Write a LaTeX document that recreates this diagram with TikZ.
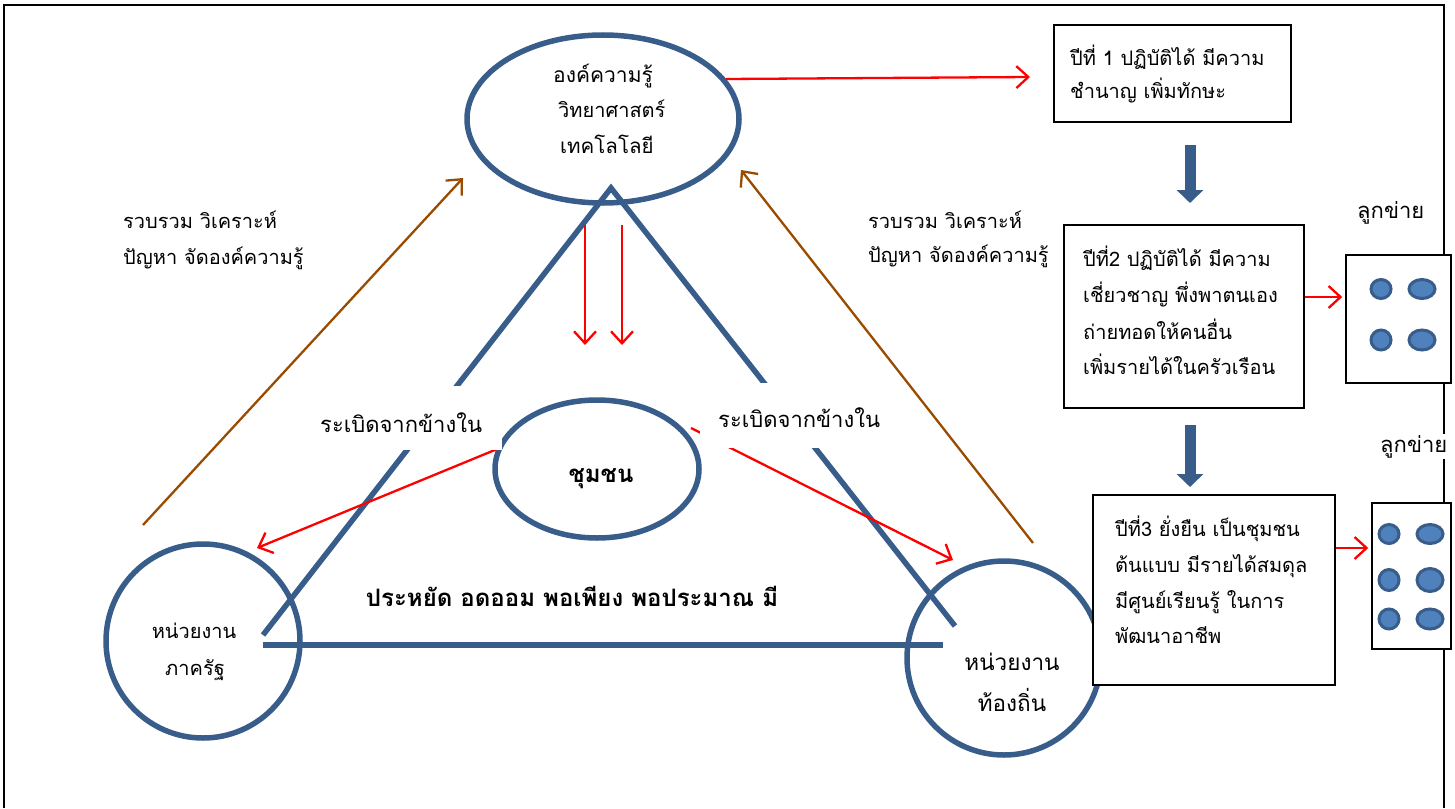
\documentclass[tikz,border=0pt]{standalone}
\usepackage{fontspec}
\newfontfamily\thai[Script=Thai]{Loma}
\usetikzlibrary{arrows.meta,shapes.geometric}
\definecolor{bl}{RGB}{56,93,138}
\definecolor{blf}{RGB}{79,129,189}
\definecolor{brn}{RGB}{153,76,0}
\definecolor{rd}{RGB}{255,0,0}
\begin{document}
\begin{tikzpicture}[x=1pt,y=-1pt,
  th/.style={font=\thai\fontsize{20}{24}\selectfont, inner sep=0pt, anchor=base west},
  thc/.style={font=\thai\fontsize{20}{24}\selectfont, inner sep=0pt, anchor=base},
  thb/.style={font=\thai\bfseries\fontsize{24}{28}\selectfont, inner sep=0pt, anchor=base},
  shp/.style={draw=bl, line width=5.5pt, inner sep=0pt},
  tri/.style={draw=bl, line width=5.5pt, line join=miter},
  rarr/.style={draw=rd, line width=2.3pt, -{Straight Barb[length=12pt,width=22pt]}},
  barr/.style={draw=brn, line width=2.3pt, -{Straight Barb[length=12pt,width=22pt]}},
  blk/.style={draw=bl, line width=11pt, -{Triangle[length=13pt,width=26pt]}},
  box/.style={draw=black, line width=1.5pt, fill=white, inner sep=0pt},
  dot/.style={ellipse, draw=bl, fill=blf, line width=3pt, inner sep=0pt},
  cover/.style={fill=white, inner xsep=20pt, inner ysep=6pt, anchor=base west, font=\thai\fontsize{22}{26}\selectfont}
]
\useasboundingbox (0,0) rectangle (1455,808);
% frame
\draw[line width=2pt] (4,808) -- (4,5) -- (1444,5) -- (1444,808);

% main shapes
\node[shp, ellipse, minimum width=272pt, minimum height=168pt] (know) at (603,119) {};
\node[shp, ellipse, minimum width=204pt, minimum height=138pt] (comm) at (597,469) {};
\node[shp, circle, minimum size=194pt] (gov) at (203,641) {};
\node[shp, circle, minimum size=194pt] (loc) at (1004,658) {};

% triangle
\coordinate (apex) at (611,188);
\coordinate (tl) at (263,635);
\coordinate (tr) at (955,626);
\coordinate (bl1) at (263,645);
\coordinate (br1) at (943,645);
\draw[tri] (tl) -- (apex) -- (tr);
\draw[tri] (bl1) -- (br1);

% red arrows
\coordinate (r1e) at (1030,77);
\draw[rarr] (know.18) -- (r1e);
\coordinate (v1s) at (585,225); \coordinate (v1e) at (585,345);
\coordinate (v2s) at (622,225); \coordinate (v2e) at (622,345);
\draw[rarr] (v1s) -- (v1e);
\draw[rarr] (v2s) -- (v2e);
\coordinate (cl) at (257,548);
\draw[rarr] (comm.169) -- (cl);
\coordinate (crs) at (691,428);
\coordinate (cr) at (953,560);
\draw[rarr] (crs) -- (cr);

% brown arrows
\coordinate (b1s) at (143,525); \coordinate (b1e) at (463,178);
\coordinate (b2s) at (1033,543); \coordinate (b2e) at (741,170);
\draw[barr] (b1s) -- (b1e);
\draw[barr] (b2s) -- (b2e);

% texts in shapes
\node[th, font=\thai\fontsize{21}{24}\selectfont] (k1) at (553,82) {องค์ความรู้};
\node[th] (k2) at (558,117) {วิทยาศาสตร์};
\node[th, font=\thai\fontsize{20.5}{24}\selectfont] (k3) at (560,153) {เทคโลโลยี};
\node[thb] (ct) at (601,482) {ชุมชน};
\node[thc, font=\thai\fontsize{20}{24}\selectfont] (g1) at (194,638) {หน่วยงาน};
\node[thc, font=\thai\fontsize{20}{24}\selectfont] (g2) at (195,675) {ภาครัฐ};
\node[thc, font=\thai\fontsize{22.5}{26}\selectfont] (l1) at (1012,670) {หน่วยงาน};
\node[thc, font=\thai\fontsize{22.5}{26}\selectfont] (l2) at (1012,711) {ท้องถิ่น};
\node[thb, font=\thai\bfseries\fontsize{24}{28}\selectfont] (eco) at (572,606) {ประหยัด อดออม พอเพียง พอประมาณ มี};

% brown labels
\node[th] (la1) at (123,228) {รวบรวม วิเคราะห์};
\node[th] (la2) at (123,264) {ปัญหา จัดองค์ความรู้};
\node[th] (ra1) at (868,228) {รวบรวม วิเคราะห์};
\node[th] (ra2) at (868,262) {ปัญหา จัดองค์ความรู้};

% covering labels
\node[cover, text height=40pt, text depth=12pt] (lab1) at (300,432) {ระเบิดจากข้างใน};
\node[cover, text height=38pt, text depth=15pt, inner xsep=18pt] (lab2) at (700,427) {ระเบิดจากข้างใน};

% right column boxes
\node[box, minimum width=237pt, minimum height=97pt] (y1) at (1172.5,73.5) {};
\node[th] (y1a) at (1070,65) {ปีที่ 1 ปฏิบัติได้ มีความ};
\node[th] (y1b) at (1070,98) {ชำนาญ เพิ่มทักษะ};
\coordinate (k1s) at (1190,145); \coordinate (k1e) at (1190,203);
\draw[blk] (k1s) -- (k1e);

\node[box, minimum width=240pt, minimum height=183pt] (y2) at (1184,316.5) {};
\node[th] (y2a) at (1083,266) {ปีที่2 ปฏิบัติได้ มีความ};
\node[th] (y2b) at (1083,302) {เชี่ยวชาญ พึ่งพาตนเอง};
\node[th] (y2c) at (1083,339) {ถ่ายทอดให้คนอื่น};
\node[th] (y2d) at (1083,374) {เพิ่มรายได้ในครัวเรือน};
\coordinate (k2s) at (1190,425); \coordinate (k2e) at (1190,487);
\draw[blk] (k2s) -- (k2e);

\node[box, minimum width=242pt, minimum height=190pt] (y3) at (1214,590) {};
\node[th] (y3a) at (1115,536) {ปีที่3 ยั่งยืน เป็นชุมชน};
\node[th] (y3b) at (1115,572) {ต้นแบบ มีรายได้สมดุล};
\node[th] (y3c) at (1115,608) {มีศูนย์เรียนรู้ ในการ};
\node[th] (y3d) at (1115,643) {พัฒนาอาชีพ};

% network boxes
\node[box, minimum width=105pt, minimum height=128pt] (netA) at (1398.5,319) {};
\node[box, minimum width=79pt, minimum height=146pt] (netB) at (1411.5,576) {};
\node[th, font=\thai\fontsize{22}{26}\selectfont] (ntA) at (1357,218) {ลูกข่าย};
\node[th, font=\thai\fontsize{22}{26}\selectfont, fill=white, inner sep=1pt] (ntB) at (1379,452) {ลูกข่าย};

\node[dot, minimum width=20pt, minimum height=19pt] (a1) at (1381,289) {};
\node[dot, minimum width=26pt, minimum height=19pt] (a2) at (1422,289) {};
\node[dot, minimum width=20pt, minimum height=20pt] (a3) at (1381,340) {};
\node[dot, minimum width=26pt, minimum height=20pt] (a4) at (1422,340) {};

\node[dot, minimum width=20pt, minimum height=19pt] (b1) at (1389,534) {};
\node[dot, minimum width=26pt, minimum height=19pt] (b2) at (1430,534) {};
\node[dot, minimum width=20pt, minimum height=21pt] (b3) at (1389,580) {};
\node[dot, minimum width=26pt, minimum height=23pt] (b4) at (1430,580) {};
\node[dot, minimum width=20pt, minimum height=20pt] (b5) at (1389,619) {};
\node[dot, minimum width=26pt, minimum height=20pt] (b6) at (1430,619) {};

\coordinate (ya) at ([yshift=19.5pt]y2.east);
\draw[rarr, shorten >=3pt] (ya) -- (ya -| netA.west);
\coordinate (yb) at ([yshift=42pt]y3.east);
\draw[rarr, shorten >=3pt] (yb) -- (yb -| netB.west);
\end{tikzpicture}
\end{document}
